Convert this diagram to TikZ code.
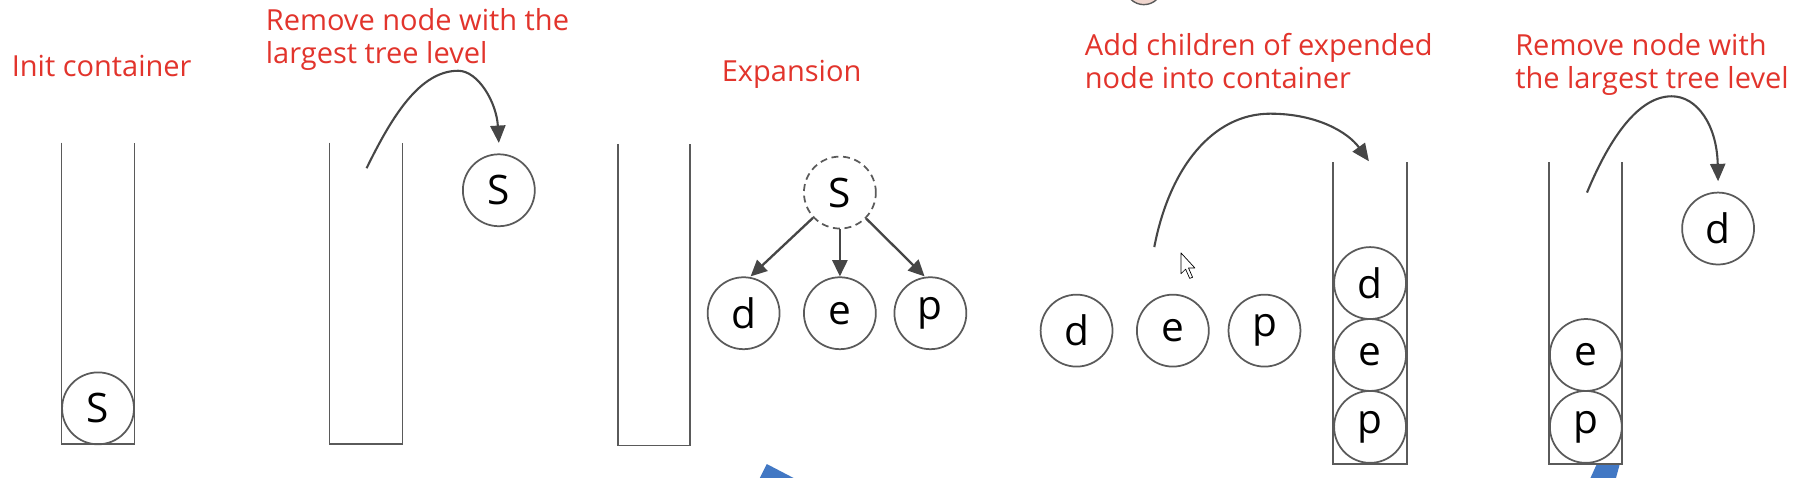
\documentclass[tikz,border=0pt]{standalone}
\usepackage{fontspec}
\newfontfamily\osans{Open Sans}
\usetikzlibrary{arrows.meta}
\definecolor{labred}{RGB}{226,52,44}
\definecolor{linegray}{RGB}{90,90,90}
\definecolor{arrgray}{RGB}{70,70,70}
\definecolor{blueshape}{RGB}{66,120,196}
\definecolor{pinkfill}{RGB}{240,214,206}
\tikzset{
  wall/.style={draw=linegray, line width=1.5pt},
  ball/.style={circle, draw=linegray, line width=1.5pt, minimum size=62pt, inner sep=0pt,
    font=\osans\fontsize{35}{40}\selectfont},
  dashball/.style={ball, dash pattern=on 6pt off 4pt},
  lab/.style={text=labred, font=\osans\fontsize{25}{28.5}\selectfont, align=left,
    anchor=base west, inner sep=0pt},
  arr/.style={draw=arrgray, line width=2pt, -{Triangle[length=14pt,width=13pt]}},
  carr/.style={draw=arrgray, line width=1.8pt, -{Triangle[length=15pt,width=13pt]}}
}
\begin{document}
\begin{tikzpicture}[x=1pt,y=-1pt]
\clip (0,0) rectangle (1568,412);
\fill[white] (0,0) rectangle (1568,412);

% labels (base = baseline of last line)
\node[lab] (t1) at (10,66) {Init container};
\node[lab] (t2) at (229,55) {Remove node with the\\largest tree level};
\node[lab] (t3) at (622,70) {Expansion};
\node[lab] (t4) at (935,76) {Add children of expended\\node into container};
\node[lab] (t5) at (1306,76) {Remove node with\\the largest tree level};

% containers
\draw[wall] (53,123) -- (53,383) -- (116,383) -- (116,123);
\draw[wall] (284,123) -- (284,383) -- (347,383) -- (347,123);
\draw[wall] (533,124) -- (533,384) -- (595,384) -- (595,124);
\draw[wall] (1149,140) -- (1149,400) -- (1213,400) -- (1213,140);
\draw[wall] (1335,140) -- (1335,400) -- (1398,400) -- (1398,140);

% step 1
\node[ball] (s1) at (84.5,352) {S};

% step 2
\node[ball] (s2) at (430,164) {S};
\coordinate (a2) at (316,145);
\coordinate (p2) at (395,61);
\draw[carr] (a2) .. controls (338,100) and (362,61) .. (p2)
  .. controls (412,61) and (428,88) .. ([yshift=9pt]s2.north);

% step 3
\node[dashball] (s3) at (724,166) {S};
\node[ball] (d3) at (641,270) {d};
\node[ball] (e3) at (724,270) {e};
\node[ball] (p3) at (802,270) {p};
\draw[arr] (s3) -- ([xshift=6pt]d3.north);
\draw[arr] (s3) -- (e3);
\draw[arr] (s3) -- ([xshift=-5pt]p3.north);

% step 4
\node[ball] (d4) at (928,285) {d};
\node[ball] (e4) at (1011,285) {e};
\node[ball] (p4) at (1090,285) {p};
\node[ball] (dd4) at (1181,244) {d};
\node[ball] (ee4) at (1181,306) {e};
\node[ball] (pp4) at (1181,368) {p};
\coordinate (a4) at (995,213);
\coordinate (p4t) at (1095,98);
\coordinate (e4t) at (1180,139);
\draw[carr] (a4) .. controls (1008,145) and (1045,98) .. (p4t)
  .. controls (1135,98) and (1162,114) .. (e4t);

% cursor
\draw[black, line width=0.6pt, fill=white, line join=round]
  (1018,218) -- (1018,236) -- (1022,232) -- (1025.5,240) -- (1028,239) -- (1024.5,231) -- (1030,231) -- cycle;

% step 5
\node[ball] (ee5) at (1367,306) {e};
\node[ball] (pp5) at (1367,368) {p};
\node[ball] (dd5) at (1481,197) {d};
\coordinate (a5) at (1368,166);
\coordinate (p5) at (1441,83);
\draw[carr] (a5) .. controls (1385,125) and (1410,83) .. (p5)
  .. controls (1463,83) and (1480,108) .. ([yshift=9pt]dd5.north);

% partial screenshot fragments
\draw[linegray, line width=1.2pt, fill=pinkfill] (986,-12) circle (16);
\fill[blueshape] (661,400) -- (684,412) -- (655,412) -- cycle;
\fill[blueshape] (1376,401) -- (1396,401) -- (1393,412) -- (1371,412) -- cycle;
\end{tikzpicture}
\end{document}
